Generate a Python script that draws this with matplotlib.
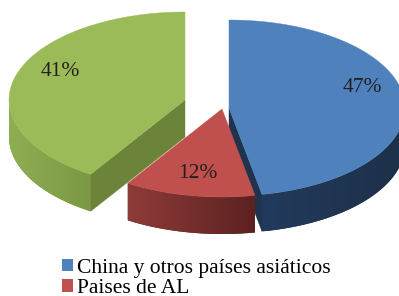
import numpy as np
import matplotlib
matplotlib.use("Agg")
import matplotlib.pyplot as plt
from matplotlib.patches import Polygon, Patch
from matplotlib.colors import to_rgb

# data
labels = ["China y otros países asiáticos", "Paises de AL", ""]
valores = [47, 12, 41]
etiquetas = ["47%", "12%", "41%"]

# estilo / layout (pixeles)
top_colors = ["#4F81BD", "#C0504D", "#9BBB59"]
rim_colors = [("#1D3049", "#223A5C"), ("#5C2220", "#8E3B39"), ("#7B9843", "#8FAE52")]
cut_colors = ["#1F324E", "#7A2B29", "#6B8439"]
base = (207, 104)
offsets = [(22, 4), (15, 5), (-22, -4)]
label_pos = [(362, 87), (198, 173), (60, 72)]
RX, RY, DEPTH = 176, 88, 37

fig = plt.figure(figsize=(3.99, 2.96), dpi=100)
ax = fig.add_axes([0, 0, 1, 1])
ax.set_xlim(0, 399)
ax.set_ylim(296, 0)
ax.axis("off")


def pt(c, th, dz=0.0):
    return (c[0] + RX * np.cos(th), c[1] - RY * np.sin(th) + dz)


total = sum(valores)
angulos = []
inicio = 90.0
for v in valores:
    fin = inicio - v / total * 360
    angulos.append((inicio, fin))
    inicio = fin

# orden de dibujo: verde, azul, rojo
for i in [2, 0, 1]:
    t1, t2 = np.radians(angulos[i][0]), np.radians(angulos[i][1])
    c = (base[0] + offsets[i][0], base[1] + offsets[i][1])

    # borde exterior visible (frente), con degradado horizontal
    ts = np.linspace(t2, t1, 200)
    ts = ts[np.sin(ts) < 0]
    if len(ts) > 1:
        arriba = [pt(c, t) for t in ts]
        abajo = [pt(c, t, DEPTH) for t in ts[::-1]]
        poly = Polygon(arriba + abajo, closed=True, fc=rim_colors[i][0], ec="none")
        ax.add_patch(poly)
        xs = [p[0] for p in arriba]
        x0, x1 = min(xs), max(xs)
        ys = [p[1] for p in arriba + abajo]
        grad = np.linspace(0, 1, 64)
        c_izq, c_der = np.array(to_rgb(rim_colors[i][1])), np.array(to_rgb(rim_colors[i][0]))
        img = (c_izq[None, :] * (1 - grad[:, None]) + c_der[None, :] * grad[:, None])[None, :, :]
        im = ax.imshow(img, extent=(x0, x1, max(ys), min(ys)), aspect="auto",
                       interpolation="bilinear", zorder=poly.get_zorder())
        im.set_clip_path(poly)

    # caras de corte
    if np.cos(t1) < -1e-6:
        cara = [c, pt(c, t1), pt(c, t1, DEPTH), (c[0], c[1] + DEPTH)]
        ax.add_patch(Polygon(cara, closed=True, fc=cut_colors[i], ec=cut_colors[i], lw=0.3))
    if np.cos(t2) > 1e-6:
        cara = [c, pt(c, t2), pt(c, t2, DEPTH), (c[0], c[1] + DEPTH)]
        ax.add_patch(Polygon(cara, closed=True, fc=cut_colors[i], ec=cut_colors[i], lw=0.3))

    # cara superior
    arco = [pt(c, t) for t in np.linspace(t1, t2, 150)]
    ax.add_patch(Polygon([c] + arco, closed=True, fc=top_colors[i], ec=top_colors[i], lw=0.3))

ax.set_xlim(0, 399)
ax.set_ylim(296, 0)

for i, txt in enumerate(etiquetas):
    ax.text(label_pos[i][0], label_pos[i][1], txt, ha="center", va="center",
            fontsize=15.5, family="Liberation Serif", color="#231F20", zorder=10)

handles = [Patch(fc=top_colors[0]), Patch(fc=top_colors[1])]
fig.legend(handles, labels[:2], loc="upper left", bbox_to_anchor=(62 / 399, 1 - 259 / 296),
           frameon=False, prop={"family": "Liberation Serif", "size": 15.5},
           handlelength=0.5, handleheight=0.5, handletextpad=0.2, labelspacing=0.05,
           borderpad=0, borderaxespad=0)

plt.savefig("out.png", dpi=100)
